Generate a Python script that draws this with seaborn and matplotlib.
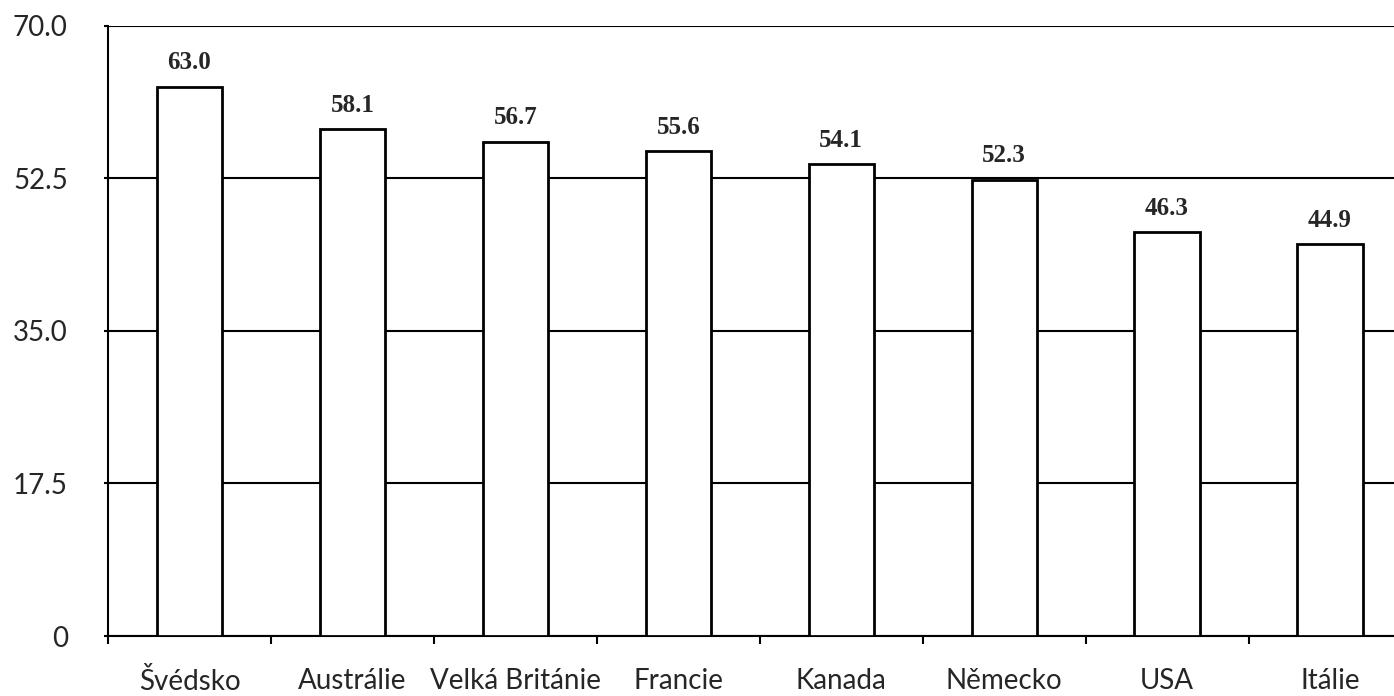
import matplotlib
matplotlib.use("Agg")
import matplotlib.pyplot as plt
import seaborn as sns
import numpy as np

# data
countries = ["Švédsko", "Austrálie", "Velká Británie", "Francie",
             "Kanada", "Německo", "USA", "Itálie"]
values = [63.0, 58.1, 56.7, 55.6, 54.1, 52.3, 46.3, 44.9]
y_ticks = [0, 17.5, 35.0, 52.5, 70.0]
y_tick_labels = ["0", "17.5", "35.0", "52.5", "70.0"]

sns.set_style("white")
plt.rcParams["font.family"] = ["Lato", "DejaVu Sans"]

fig = plt.figure(figsize=(13.94, 6.96), dpi=100)
# axes run slightly past the right edge of the picture, as in the original
ax = fig.add_axes([0.0775, 0.0862, 0.935, 0.877])

sns.barplot(x=countries, y=values, color="white", edgecolor="black",
            linewidth=2.0, width=0.4, saturation=1, ax=ax, zorder=3)

# value labels above bars
for i, v in enumerate(values):
    ax.annotate(f"{v:.1f}", (i, v), xytext=(0, 9), textcoords="offset points",
                ha="center", va="bottom", fontsize=18, fontweight="bold",
                family=["Liberation Serif", "DejaVu Serif"])

ax.set_ylim(0, 70)
ax.set_xlim(-0.5, len(countries) - 0.5)
ax.set_yticks(y_ticks)
ax.set_yticklabels(y_tick_labels)
ax.yaxis.grid(True, color="black", linewidth=1.5, zorder=0)
ax.set_axisbelow(True)

# x ticks sit between categories, labels centred under bars
ax.set_xticks(np.arange(len(countries)))
ax.set_xticklabels(countries)
ax.set_xticks(np.arange(len(countries) + 1) - 0.5, minor=True)
ax.tick_params(axis="x", which="major", length=0, pad=23, labelsize=20)
ax.tick_params(axis="x", which="minor", length=6, width=1.5, direction="out",
               color="black", bottom=True)
ax.tick_params(axis="y", length=3, width=1.5, direction="out", color="black",
               left=True, pad=26, labelsize=20)

for s in ["top", "right"]:
    ax.spines[s].set_visible(False)
for s in ["left", "bottom"]:
    ax.spines[s].set_color("black")
    ax.spines[s].set_linewidth(1.5)

ax.set_xlabel("")
ax.set_ylabel("")

fig.savefig("out.png", dpi=100)
